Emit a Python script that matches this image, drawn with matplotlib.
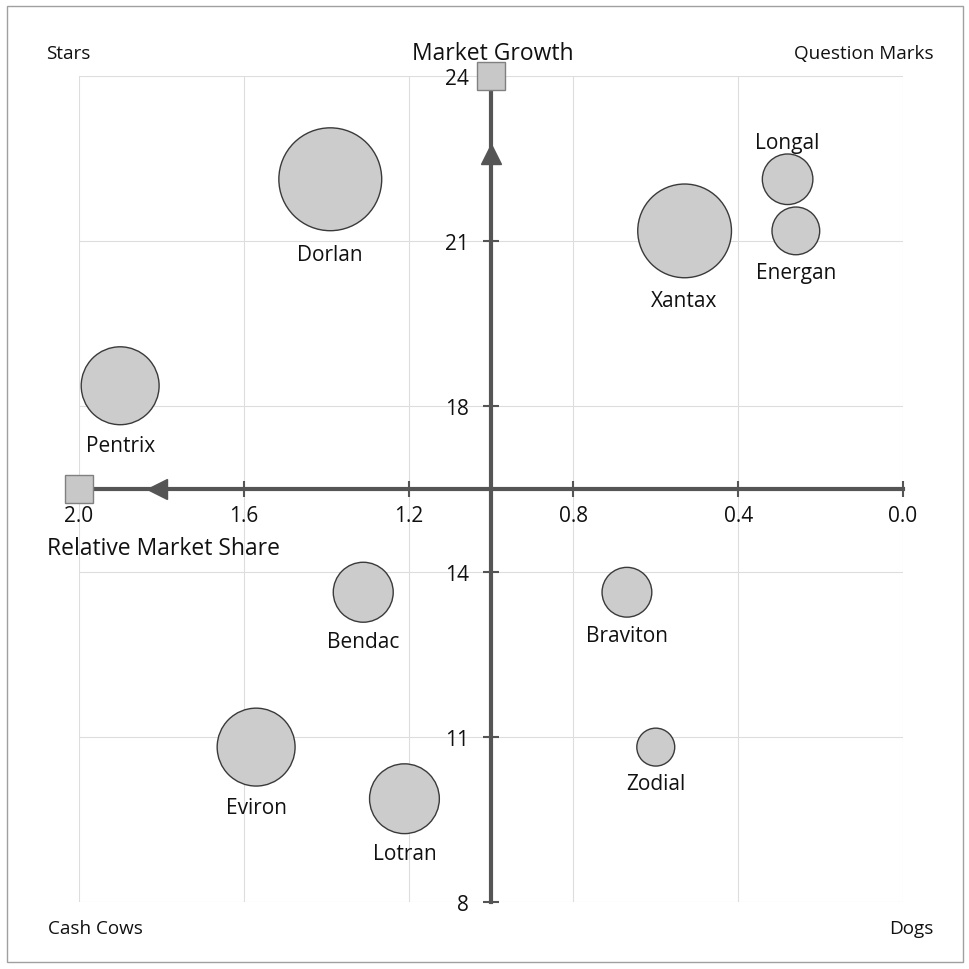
import matplotlib.pyplot as plt
from matplotlib.patches import Rectangle
import numpy as np

plt.rcParams['font.family'] = ['Open Sans', 'DejaVu Sans']

# portfolio data: relative market share, market growth, revenue (bubble area)
products = ['Dorlan', 'Xantax', 'Longal', 'Energan', 'Pentrix',
            'Bendac', 'Braviton', 'Eviron', 'Lotran', 'Zodial']
market_share = [1.39, 0.53, 0.28, 0.26, 1.90, 1.31, 0.67, 1.57, 1.21, 0.60]
market_growth = [22, 21, 22, 21, 18, 14, 14, 11, 10, 11]
revenue = [26.5, 22.0, 6.4, 5.7, 15.2, 9.0, 6.2, 15.2, 12.2, 3.6]
label_above = ['Longal']

x_ticks = [2.0, 1.6, 1.2, 0.8, 0.4, 0.0]
y_ticks = np.linspace(8, 24, 6)
share_mid, growth_mid = 1.0, 16

AXIS = '#555555'
BUBBLE = '#cccccc'
TEXT = '#111111'

fig = plt.figure(figsize=(9.7, 9.7), dpi=100)
ax = fig.add_axes([0.0814, 0.0691, 0.8495, 0.8515])

ax.set_xlim(x_ticks[0], x_ticks[-1])
ax.set_ylim(y_ticks[0], y_ticks[-1])
ax.set_xticks(x_ticks)
ax.set_xticklabels([f'{v:.1f}' for v in x_ticks])
ax.set_yticks(y_ticks)
ax.set_yticklabels([f'{v:.0f}' for v in y_ticks])

ax.grid(True, color='#dddddd', lw=0.8)
ax.set_axisbelow(True)

# axes cross in the middle of the matrix
for side in ('top', 'right'):
    ax.spines[side].set_visible(False)
ax.spines['left'].set_position(('data', share_mid))
ax.spines['bottom'].set_position(('data', growth_mid))
for side in ('left', 'bottom'):
    ax.spines[side].set_color(AXIS)
    ax.spines[side].set_linewidth(3)
    ax.spines[side].set_zorder(4)
ax.tick_params(direction='inout', length=11.5, width=1.5, color=AXIS,
               labelsize=15, labelcolor=TEXT)
ax.tick_params(axis='x', pad=6)
ax.tick_params(axis='y', pad=10)

# arrow heads and end squares on the axes
frac = 0.81
ax.plot(share_mid, growth_mid + frac * (y_ticks[-1] - growth_mid), marker='^',
        ms=13.7, color=AXIS, zorder=5)
ax.plot(share_mid + frac * (x_ticks[0] - share_mid), growth_mid, marker='<',
        ms=13.7, color=AXIS, zorder=5)
for px, py in [(share_mid, y_ticks[-1]), (x_ticks[0], growth_mid)]:
    ax.plot(px, py, marker='s', ms=19.5, mfc='#c8c8c8', mec='#808080',
            mew=1.0, clip_on=False, zorder=6)

# bubbles
sizes = np.array(revenue) * 207
ax.scatter(market_share, market_growth, s=sizes, c=BUBBLE,
           edgecolors='#3a3a3a', linewidths=1.0, zorder=3)

for name, x, y, s in zip(products, market_share, market_growth, sizes):
    r = np.sqrt(s) / 2
    if name in label_above:
        ax.annotate(name, (x, y), xytext=(0, r + 1), textcoords='offset points',
                    ha='center', va='bottom', fontsize=15, color=TEXT)
    else:
        ax.annotate(name, (x, y), xytext=(0, -(1.2 * r + 2)),
                    textcoords='offset points', ha='center', va='top',
                    fontsize=15, color=TEXT)

# axis titles and quadrant names
fig.text(0.508, 0.944, 'Market Growth', ha='center', va='center',
         fontsize=16.5, color=TEXT)
fig.text(0.0485, 0.434, 'Relative Market Share', ha='left', va='center',
         fontsize=16.5, color=TEXT)
fig.text(0.047, 0.944, 'Stars', ha='left', va='center', fontsize=13.6,
         color=TEXT)
fig.text(0.963, 0.944, 'Question Marks', ha='right', va='center',
         fontsize=13.6, color=TEXT)
fig.text(0.049, 0.042, 'Cash Cows', ha='left', va='center', fontsize=13.6,
         color=TEXT)
fig.text(0.962, 0.042, 'Dogs', ha='right', va='center', fontsize=13.6,
         color=TEXT)

fig.patches.append(Rectangle((0.007, 0.007), 0.986, 0.986,
                             transform=fig.transFigure, fill=False,
                             edgecolor='#a0a0a0', lw=1.0))

fig.savefig('out.png', dpi=100)
